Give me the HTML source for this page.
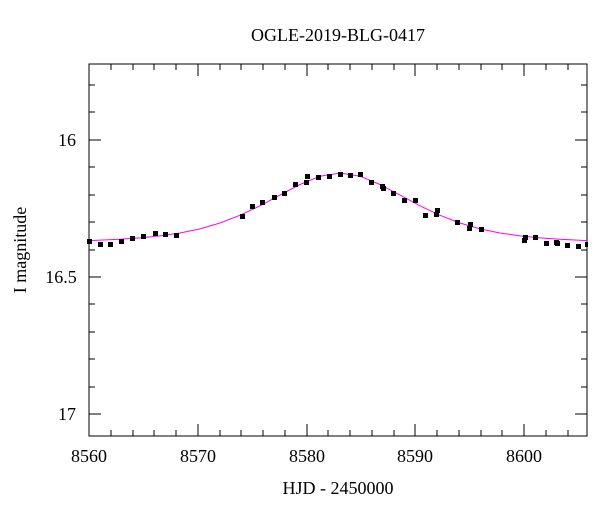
<!DOCTYPE html>
<html><head><style>body{margin:0;background:#fff}svg{display:block}</style></head><body>
<svg width="600" height="512" xmlns="http://www.w3.org/2000/svg" font-family="Liberation Serif, serif">
<rect width="600" height="512" fill="#fff"/>
<text x="338" y="41" font-size="18" text-anchor="middle">OGLE-2019-BLG-0417</text>
<g stroke="#000" stroke-width="1" fill="none">
<rect x="89" y="64" width="498" height="372"/>
<path d="M89 140h12M587 140h-12M89 277h12M587 277h-12M89 414h12M587 414h-12
M89 85h6M89 112h6M89 167h6M89 195h6M89 222h6M89 250h6M89 304h6M89 332h6M89 359h6M89 387h6
M587 85h-6M587 112h-6M587 167h-6M587 195h-6M587 222h-6M587 250h-6M587 304h-6M587 332h-6M587 359h-6M587 387h-6
M198 436v-12M307 436v-12M415 436v-12M524 436v-12M198 64v12M307 64v12M415 64v12M524 64v12
M111 436v-6M133 436v-6M154 436v-6M176 436v-6M220 436v-6M241 436v-6M263 436v-6M285 436v-6M328 436v-6M350 436v-6M372 436v-6M394 436v-6M437 436v-6M459 436v-6M481 436v-6M502 436v-6M546 436v-6M568 436v-6
M111 64v6M133 64v6M154 64v6M176 64v6M220 64v6M241 64v6M263 64v6M285 64v6M328 64v6M350 64v6M372 64v6M394 64v6M437 64v6M459 64v6M481 64v6M502 64v6M546 64v6M568 64v6"/>
</g>
<g font-size="18" text-anchor="middle">
<text x="89" y="462">8560</text><text x="198" y="462">8570</text><text x="307" y="462">8580</text><text x="415" y="462">8590</text><text x="524" y="462">8600</text>
<text x="67" y="146">16</text><text x="61" y="283">16.5</text><text x="67" y="420">17</text>
</g>
<text x="338" y="494" font-size="18" text-anchor="middle">HJD - 2450000</text>
<text transform="translate(26,250) rotate(-90)" font-size="18" text-anchor="middle">I magnitude</text>
<polyline points="89,240.6 120,239.2 140,237.9 160,235.9 180,233 200,228.9 220,223 240,215.3 260,205.8 280,195.1 300,184.5 320,176.2 340,173 360,176.2 380,184.5 400,195.1 420,205.8 440,215.3 460,223 480,228.9 500,233 520,235.9 540,237.9 560,239.2 587,240.6" fill="none" stroke="#f0f" stroke-width="1"/>
<g fill="#000">
<rect x="87" y="239" width="5" height="5"/><rect x="98" y="242" width="5" height="5"/><rect x="108" y="242" width="5" height="5"/><rect x="119" y="239" width="5" height="5"/><rect x="130" y="236" width="5" height="5"/><rect x="141" y="234" width="5" height="5"/><rect x="153" y="231" width="5" height="5"/><rect x="163" y="232" width="5" height="5"/><rect x="174" y="233" width="5" height="5"/><rect x="240" y="214" width="5" height="5"/><rect x="250" y="204" width="5" height="5"/><rect x="260" y="200" width="5" height="5"/><rect x="272" y="195" width="5" height="5"/><rect x="282" y="191" width="5" height="5"/><rect x="293" y="182" width="5" height="5"/><rect x="304" y="180" width="5" height="5"/><rect x="305" y="174" width="5" height="5"/><rect x="316" y="175" width="5" height="5"/><rect x="327" y="174" width="5" height="5"/><rect x="338" y="172" width="5" height="5"/><rect x="348" y="173" width="5" height="5"/><rect x="358" y="172" width="5" height="5"/><rect x="369" y="180" width="5" height="5"/><rect x="380" y="184" width="5" height="5"/><rect x="381" y="186" width="5" height="5"/><rect x="391" y="191" width="5" height="5"/><rect x="402" y="198" width="5" height="5"/><rect x="413" y="198" width="5" height="5"/><rect x="423" y="213" width="5" height="5"/><rect x="434" y="212" width="5" height="5"/><rect x="435" y="208" width="5" height="5"/><rect x="455" y="220" width="5" height="5"/><rect x="467" y="226" width="5" height="5"/><rect x="468" y="222" width="5" height="5"/><rect x="479" y="227" width="5" height="5"/><rect x="522" y="238" width="5" height="5"/><rect x="523" y="235" width="5" height="5"/><rect x="533" y="235" width="5" height="5"/><rect x="544" y="241" width="5" height="5"/><rect x="554" y="240" width="5" height="5"/><rect x="555" y="241" width="5" height="5"/><rect x="565" y="243" width="5" height="5"/><rect x="576" y="244" width="5" height="5"/><rect x="585" y="242" width="3" height="5"/>
</g>
</svg>
</body></html>
